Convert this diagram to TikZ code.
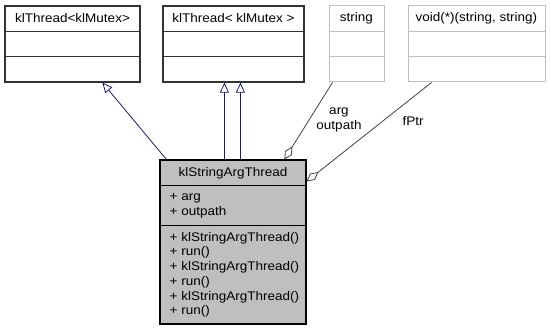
\documentclass[tikz,border=0pt]{standalone}
\usepackage{fontspec}
\setmainfont{Liberation Sans}[FakeStretch=1.08]
\usetikzlibrary{arrows.meta,calc}
\definecolor{navy}{HTML}{191970}
\definecolor{edgegray}{HTML}{404040}
\definecolor{lightb}{HTML}{BFBFBF}
\definecolor{mainfill}{HTML}{BFBFBF}
\begin{document}
\begin{tikzpicture}[x=1pt,y=-1pt,
  every node/.style={font=\fontsize{12.5}{14.7}\selectfont, inner sep=0pt},
  darkbox/.style={draw=black!80, line width=1.2pt, fill=white},
  lightbox/.style={draw=lightb, line width=1pt, fill=white},
  mainbox/.style={draw=black, line width=1.2pt, fill=mainfill},
  inh/.style={draw=navy, line width=0.8pt, -{Triangle[open, length=10pt, width=9pt, fill=white]}},
  agg/.style={draw=edgegray, line width=0.8pt, -{Diamond[open, length=15pt, width=8pt, fill=white]}},
  member/.style={anchor=west}
]
\useasboundingbox (0,0) rectangle (550,331);

% base classes
\node[darkbox, minimum width=135pt, minimum height=76pt] (b1) at (72.5,44) {};
\node[darkbox, minimum width=141pt, minimum height=76pt] (b2) at (233.5,44) {};
\node[lightbox, minimum width=55pt, minimum height=76pt] (b3) at (356.5,44) {};
\node[lightbox, minimum width=137pt, minimum height=76pt] (b4) at (476.5,44) {};
\foreach \b/\c in {b1/black!80, b2/black!80, b3/lightb, b4/lightb} {
  \draw[draw=\c, line width=1pt] ($(\b.north west)+(0,26)$) -- ($(\b.north east)+(0,26)$);
  \draw[draw=\c, line width=1pt] ($(\b.north west)+(0,51)$) -- ($(\b.north east)+(0,51)$);
}
\node (t1) at (72.5,18) {klThread<klMutex>};
\node (t2) at (233.5,18) {klThread< klMutex >};
\node (t3) at (356.5,18) {string};
\node (t4) at (476.5,18) {void(*)(string, string)};

% main class
\node[mainbox, minimum width=146pt, minimum height=164pt] (main) at (233,242) {};
\draw[line width=1.2pt] ($(main.north west)+(0,26)$) -- ($(main.north east)+(0,26)$);
\draw[line width=1.2pt] ($(main.north west)+(0,66)$) -- ($(main.north east)+(0,66)$);
\node (tm) at (233,173) {klStringArgThread};
\node[member] (a1) at (169.5,198) {+ arg};
\node[member] (a2) at (169.5,212) {+ outpath};
\node[member] (m1) at (169.5,238) {+ klStringArgThread()};
\node[member] (m2) at (169.5,252.7) {+ run()};
\node[member] (m3) at (169.5,267.4) {+ klStringArgThread()};
\node[member] (m4) at (169.5,282.1) {+ run()};
\node[member] (m5) at (169.5,296.8) {+ klStringArgThread()};
\node[member] (m6) at (169.5,311.5) {+ run()};

% inheritance
\draw[inh] ($(main.north west)+(7,0)$) -- ($(b1.south west)+(98,0)$);
\draw[inh] ($(main.north west)+(65,0)$) -- ($(b2.south west)+(62,0)$);
\draw[inh] ($(main.north west)+(81,0)$) -- ($(b2.south west)+(78,0)$);

% aggregation
\draw[agg] ($(b3.south west)+(4,0)$) -- ($(main.north west)+(125,0)$);
\draw[agg] ($(b4.south west)+(24,0)$) -- ($(main.north east)+(0,22)$);
\node[align=center] (l1) at (339,120) {arg\\outpath};
\node (l2) at (413,121) {fPtr};
\end{tikzpicture}
\end{document}
